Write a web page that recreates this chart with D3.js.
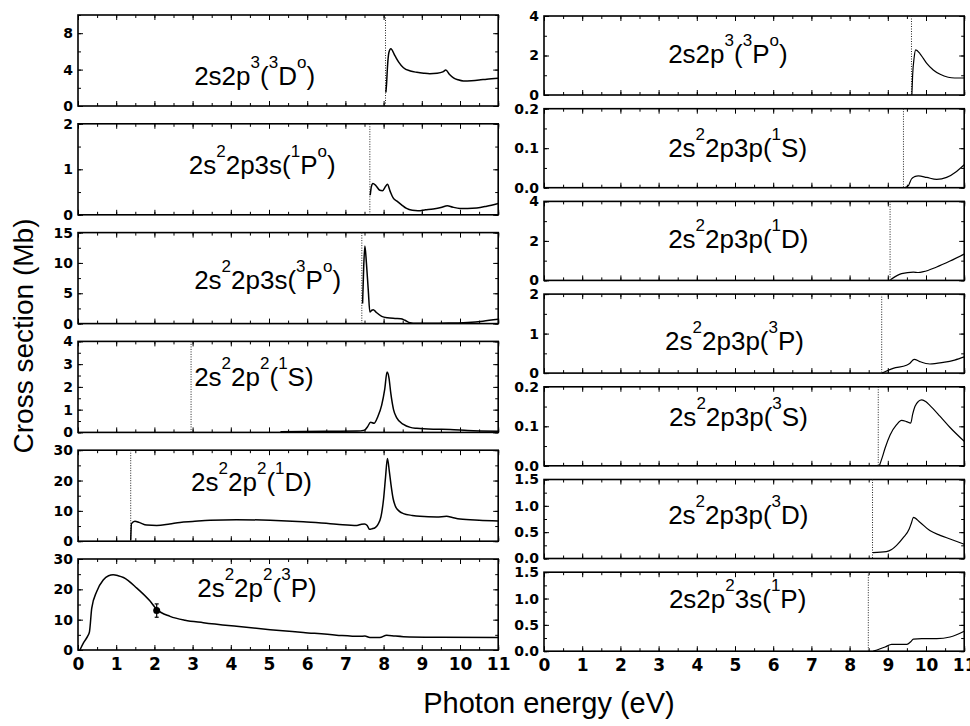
<!DOCTYPE html>
<html><head><meta charset="utf-8">
<script src="https://cdn.jsdelivr.net/npm/d3@7"></script>
<style>body{margin:0;background:#fff}</style>
</head><body>
<svg id="c" width="970" height="726"></svg>
<script>
// ---------- DATA ----------
const xTickLabels = [0,1,2,3,4,5,6,7,8,9,10,11];

const labelsLeft  = ["2s2p^3(^3D^o)","2s^22p3s(^1P^o)","2s^22p3s(^3P^o)","2s^22p^2(^1S)","2s^22p^2(^1D)","2s^22p^2(^3P)"];
const labelsRight = ["2s2p^3(^3P^o)","2s^22p3p(^1S)","2s^22p3p(^1D)","2s^22p3p(^3P)","2s^22p3p(^3S)","2s^22p3p(^3D)","2s2p^23s(^1P)"];

const yMaxLeft  = [10, 2, 15, 4, 30, 30];
const yMaxRight = [4, 0.2, 4, 2, 0.2, 1.5, 1.5];

const yTicksLeft  = [[0,4,8],[0,1,2],[0,5,10,15],[0,1,2,3,4],[0,10,20,30],[0,10,20,30]];
const yMinorLeft  = [2, 0.5, 2.5, 0.5, 5, 5];
const yTicksRight = [["0","2","4"],["0.0","0.1","0.2"],["0","2","4"],["0","1","2"],["0.0","0.1","0.2"],["0.0","0.5","1.0","1.5"],["0.0","0.5","1.0","1.5"]];
const yMinorRight = [1, 0.05, 1, 0.5, 0.05, 0.25, 0.25];

const thresholdLeft  = [8.05, 7.64, 7.43, 2.96, 1.38, null];
const thresholdRight = [9.62, 9.41, 9.06, 8.84, 8.75, 8.60, 8.49];

const curveL1 = [[8.06,1.5],[8.08,2.6],[8.1,4.2],[8.14,5.9],[8.19,6.3],[8.3,5.5],[8.4,4.8],[8.52,4.2],[8.7,3.85],[8.87,3.7],[9.05,3.6],[9.21,3.55],[9.4,3.6],[9.55,3.75],[9.63,3.95],[9.72,3.5],[9.83,3.1],[9.95,2.88],[10.09,2.75],[10.3,2.78],[10.5,2.85],[10.7,2.95],[11,3.05]];
const curveL2 = [[7.65,0.43],[7.68,0.62],[7.72,0.69],[7.8,0.64],[7.9,0.54],[7.97,0.53],[8.05,0.62],[8.1,0.67],[8.17,0.52],[8.25,0.37],[8.35,0.3],[8.47,0.22],[8.6,0.14],[8.75,0.1],[8.9,0.09],[9.1,0.11],[9.3,0.13],[9.5,0.16],[9.67,0.2],[9.8,0.17],[10.0,0.14],[10.2,0.14],[10.44,0.15],[10.7,0.19],[11,0.25]];
const curveL3 = [[7.45,3.3],[7.48,9.5],[7.51,12.8],[7.55,10],[7.6,5.4],[7.64,1.9],[7.69,2.2],[7.73,2.3],[7.8,1.9],[7.95,1.2],[8.1,0.95],[8.3,0.85],[8.45,0.8],[8.56,0.55],[8.69,0.15],[8.85,0.05],[9.2,0.05],[9.7,0.08],[10.2,0.2],[10.6,0.4],[11,0.7]];
const curveL4 = [[5.3,0.03],[6.5,0.05],[7.3,0.06],[7.5,0.1],[7.58,0.25],[7.66,0.45],[7.75,0.4],[7.85,0.7],[7.95,1.2],[8.03,1.9],[8.09,2.65],[8.14,2.4],[8.19,1.7],[8.26,1.0],[8.34,0.65],[8.52,0.35],[8.7,0.22],[8.87,0.18],[9.3,0.14],[9.74,0.13],[10.2,0.08],[11,0.05]];
const curveL5 = [[1.38,0.3],[1.4,5.8],[1.49,6.6],[1.6,6.2],[1.8,5.3],[2.06,5.2],[2.4,5.7],[2.67,6.2],[3.0,6.5],[3.46,6.9],[4.15,7.1],[5.03,6.9],[5.9,6.4],[6.77,5.6],[7.3,5.2],[7.42,5.6],[7.5,5.7],[7.57,5.2],[7.63,3.9],[7.7,4.1],[7.78,4.5],[7.85,5.5],[7.93,8],[8.0,14],[8.05,21],[8.1,27.3],[8.15,23],[8.19,19],[8.25,14],[8.3,11.8],[8.4,10],[8.52,9.1],[8.75,8.5],[8.95,8.2],[9.39,8.0],[9.65,8.2],[9.8,7.8],[10.0,7.3],[10.5,6.9],[11,6.7]];
const curveL6 = [[0.05,0],[0.15,2.5],[0.25,4.5],[0.3,6],[0.36,13.8],[0.49,19.3],[0.66,23.1],[0.8,24.5],[0.92,24.8],[1.05,24.5],[1.19,23.9],[1.54,20.4],[1.88,16.2],[2.06,13.4],[2.41,11.1],[2.8,9.8],[3.28,9.0],[4.15,7.8],[5.03,6.7],[5.9,5.8],[6.77,4.9],[7.38,4.5],[7.51,4.6],[7.64,4.1],[7.9,4.1],[8.08,4.9],[8.3,4.6],[8.52,4.4],[9.5,4.2],[11,4.1]];

const curveR1 = [[9.63,0],[9.65,1.0],[9.69,1.9],[9.73,2.28],[9.84,2.1],[9.93,1.85],[10.02,1.6],[10.19,1.27],[10.37,1.05],[10.58,0.9],[10.75,0.86],[11,0.86]];
const curveR2 = [[9.45,0],[9.54,0.005],[9.58,0.014],[9.62,0.022],[9.7,0.028],[9.8,0.03],[10.02,0.026],[10.28,0.021],[10.54,0.026],[10.8,0.041],[11,0.058]];
const curveR3 = [[9.07,0.03],[9.36,0.34],[9.67,0.42],[9.8,0.4],[9.93,0.44],[10.28,0.68],[10.63,0.98],[11,1.33]];
const curveR4 = [[8.85,0],[9.14,0.12],[9.49,0.2],[9.58,0.25],[9.69,0.35],[9.84,0.29],[10.1,0.23],[10.45,0.27],[10.75,0.33],[11,0.41]];
const curveR5 = [[8.78,0],[8.85,0.02],[8.93,0.045],[9.06,0.078],[9.23,0.104],[9.36,0.115],[9.49,0.112],[9.6,0.108],[9.65,0.13],[9.71,0.15],[9.8,0.163],[9.89,0.167],[10.0,0.162],[10.1,0.153],[10.37,0.125],[10.63,0.097],[11,0.062]];
const curveR6 = [[8.61,0.11],[8.96,0.13],[9.1,0.17],[9.23,0.25],[9.41,0.4],[9.56,0.56],[9.62,0.68],[9.67,0.78],[9.84,0.69],[10.1,0.53],[10.37,0.44],[10.63,0.37],[11,0.27]];
const curveR7 = [[8.62,0],[8.93,0.08],[9.1,0.13],[9.28,0.13],[9.5,0.13],[9.6,0.18],[9.67,0.23],[9.89,0.24],[10.28,0.24],[10.63,0.27],[11,0.38]];

const curvesLeft  = [curveL1, curveL2, curveL3, curveL4, curveL5, curveL6];
const curvesRight = [curveR1, curveR2, curveR3, curveR4, curveR5, curveR6, curveR7];

// experimental point with error bar (bottom-left panel)
const expX = [2.06], expY = [13], expLow = [10.8], expHigh = [15.2];

// ---------- LAYOUT ----------
const layoutL = {x0:78, x1:498.2, top0:15, step:108.8, h:91, lw:1.5};
const layoutR = {x0:544, x1:964.2, top0:16, step:92.7, h:79, lw:1.2};
const labelPosL = [[3.04,70],[2.9,50],[3.04,56],[3.04,45],[2.96,41],[3.12,38]];
const labelPosR = [[3.25,47],[3.25,48],[3.25,47],[3.17,56],[3.27,39],[3.25,44],[3.27,36]];

const svg = d3.select("#c");
const tickFont = "'DejaVu Sans', Arial, sans-serif";
const labFont = "'Liberation Sans', Arial, Helvetica, sans-serif";

function drawLabel(g, str, x, y) {
  const t = g.append("text").attr("x", x).attr("y", y)
    .attr("font-family", labFont).attr("font-size", 26).attr("fill", "#000");
  let i = 0;
  const parts = [];
  while (i < str.length) {
    if (str[i] === "^") { parts.push({t:str[i+1], s:true}); i += 2; }
    else {
      let j = i, s = "";
      while (j < str.length && str[j] !== "^") { s += str[j]; j++; }
      parts.push({t:s, s:false}); i = j;
    }
  }
  let raised = false;
  parts.forEach(p => {
    const ts = t.append("tspan").text(p.t);
    if (p.s) { ts.attr("font-size", 17); if (!raised) { ts.attr("dy", -17); raised = true; } }
    else { if (raised) { ts.attr("dy", 17); raised = false; } }
  });
}

function drawPanel(L, i, ymax, majors, majorLabels, minorStep, thr, data, label, lpos, isBottom) {
  const top = L.top0 + i*L.step;
  const g = svg.append("g").attr("transform", `translate(0,${top})`);
  const x = d3.scaleLinear().domain([0,11]).range([L.x0, L.x1]);
  const y = d3.scaleLinear().domain([0,ymax]).range([L.h, 0]);

  const minors = d3.range(0, ymax + minorStep/2, minorStep);
  const xMinor = d3.range(0, 11.01, 0.5);

  function ax(gen, tr) {
    const a = g.append("g").attr("transform", tr).call(gen);
    a.select(".domain").remove();
    a.selectAll("line").attr("stroke", "#000").attr("stroke-width", 1);
    return a;
  }
  ax(d3.axisBottom(x).tickValues(xMinor).tickSize(-3).tickFormat(""), `translate(0,${L.h})`);
  ax(d3.axisTop(x).tickValues(xMinor).tickSize(-3).tickFormat(""), `translate(0,0)`);
  ax(d3.axisTop(x).tickValues(xTickLabels).tickSize(-5).tickFormat(""), `translate(0,0)`);
  const xb = ax(d3.axisBottom(x).tickValues(xTickLabels).tickSize(-5).tickPadding(8)
      .tickFormat(isBottom ? d3.format("d") : ""), `translate(0,${L.h})`);
  xb.selectAll("text").attr("font-family", tickFont).attr("font-weight", "bold")
    .attr("font-size", 17).attr("fill", "#000");

  ax(d3.axisLeft(y).tickValues(minors).tickSize(-3).tickFormat(""), `translate(${L.x0},0)`);
  ax(d3.axisRight(y).tickValues(minors).tickSize(-3).tickFormat(""), `translate(${L.x1},0)`);
  ax(d3.axisRight(y).tickValues(majors).tickSize(-5).tickFormat(""), `translate(${L.x1},0)`);
  const yl = ax(d3.axisLeft(y).tickValues(majors).tickSize(-5).tickPadding(5)
      .tickFormat((d,k) => majorLabels[k]), `translate(${L.x0},0)`);
  yl.selectAll("text").attr("font-family", tickFont).attr("font-weight", "bold")
    .attr("font-size", 14).attr("fill", "#000");

  g.append("rect").attr("x", L.x0).attr("y", 0).attr("width", L.x1 - L.x0).attr("height", L.h)
    .attr("fill", "none").attr("stroke", "#000").attr("stroke-width", 1.6);

  if (thr !== null) {
    g.append("line").attr("x1", x(thr)).attr("x2", x(thr)).attr("y1", 0).attr("y2", L.h)
      .attr("stroke", "#222").attr("stroke-width", 1).attr("stroke-dasharray", "1,1.5");
  }
  const line = d3.line().x(d => x(d[0])).y(d => y(d[1])).curve(d3.curveMonotoneX);
  g.append("path").datum(data).attr("d", line).attr("fill", "none")
    .attr("stroke", "#000").attr("stroke-width", L.lw).attr("stroke-linejoin", "round");

  drawLabel(g, label, x(lpos[0]), lpos[1]);
  return {g, x, y};
}

labelsLeft.forEach((lab, i) => {
  const p = drawPanel(layoutL, i, yMaxLeft[i], yTicksLeft[i], yTicksLeft[i].map(String), yMinorLeft[i],
    thresholdLeft[i], curvesLeft[i], lab, labelPosL[i], i === labelsLeft.length - 1);
  if (i === 5) {
    expX.forEach((ex, k) => {
      p.g.append("line").attr("x1", p.x(ex)).attr("x2", p.x(ex))
        .attr("y1", p.y(expLow[k])).attr("y2", p.y(expHigh[k])).attr("stroke", "#000").attr("stroke-width", 1.2);
      [expLow[k], expHigh[k]].forEach(v => p.g.append("line")
        .attr("x1", p.x(ex) - 2).attr("x2", p.x(ex) + 2).attr("y1", p.y(v)).attr("y2", p.y(v))
        .attr("stroke", "#000").attr("stroke-width", 1.2));
      p.g.append("circle").attr("cx", p.x(ex)).attr("cy", p.y(expY[k])).attr("r", 3.5).attr("fill", "#000");
    });
  }
});

labelsRight.forEach((lab, i) => {
  drawPanel(layoutR, i, yMaxRight[i], yTicksRight[i].map(Number), yTicksRight[i], yMinorRight[i],
    thresholdRight[i], curvesRight[i], lab, labelPosR[i], i === labelsRight.length - 1);
});

svg.append("text").attr("transform", "translate(33,336) rotate(-90)").attr("text-anchor", "middle")
  .attr("font-family", labFont).attr("font-size", 28).text("Cross section (Mb)");
svg.append("text").attr("x", 549).attr("y", 713).attr("text-anchor", "middle")
  .attr("font-family", labFont).attr("font-size", 29).text("Photon energy (eV)");
</script>
</body></html>
